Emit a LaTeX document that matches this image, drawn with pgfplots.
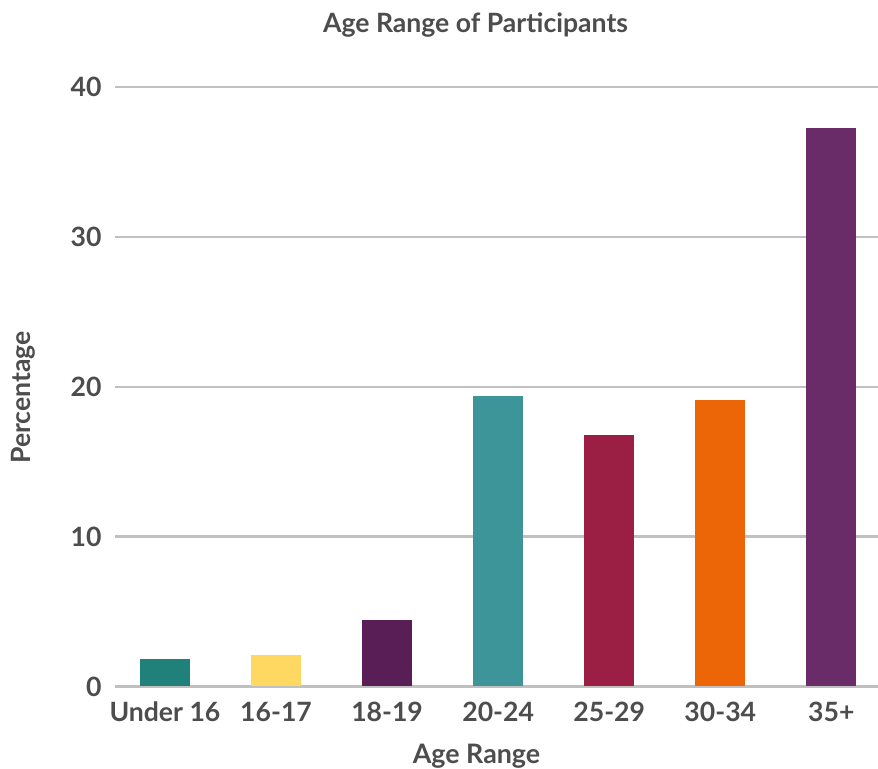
\documentclass[border=0pt]{standalone}
\usepackage{fontspec}
\setmainfont{Lato}
\usepackage{pgfplots}
\pgfplotsset{compat=1.18}
\definecolor{txt}{HTML}{4D4D4D}
\definecolor{grd}{HTML}{C0C0C0}
\definecolor{c1}{HTML}{20817A}
\definecolor{c2}{HTML}{FFD862}
\definecolor{c3}{HTML}{5A1E56}
\definecolor{c4}{HTML}{3D9599}
\definecolor{c5}{HTML}{9B1F45}
\definecolor{c6}{HTML}{EC6608}
\definecolor{c7}{HTML}{6A2C69}
\begin{document}
\begin{tikzpicture}
\useasboundingbox (0,0) rectangle (439pt,384.5pt);
\begin{axis}[
  at={(57.5pt,41.25pt)}, anchor=south west,
  scale only axis, width=381.5pt, height=299.75pt,
  ybar, bar width=25pt, bar shift=0pt,
  xmin=-0.45, xmax=6.42, ymin=0, ymax=40,
  ytick={0,10,20,30,40},
  xtick={0,1,2,3,4,5,6},
  xticklabels={Under 16,16-17,18-19,20-24,25-29,30-34,35+},
  /pgf/number format/assume math mode=true,
  axis line style={draw=none},
  major tick length=0pt,
  ymajorgrids, grid style={grd, line width=1.2pt},
  tick label style={font=\fontsize{13.3}{15}\selectfont\bfseries, text=txt},
  yticklabel style={anchor=east, inner sep=0pt, xshift=-6.5pt},
  xticklabel style={anchor=base, inner sep=0pt, yshift=-17.75pt},
  title={Age Range of Participants},
  title style={at={([yshift=27pt]axis description cs:0.4725,1)}, anchor=base, yshift=-6pt, inner sep=0pt, font=\fontsize{13.3}{15}\selectfont\bfseries, text=txt},
  xlabel={Age Range},
  xlabel style={at={([yshift=-38.5pt]axis description cs:0.4738,0)}, anchor=base, inner sep=0pt, font=\fontsize{13.4}{15}\selectfont\bfseries, text=txt},
  ylabel={Percentage},
  ylabel style={at={([xshift=-42.5pt]axis description cs:0,0.482)}, anchor=base, rotate=0, inner sep=0pt, font=\fontsize{13.3}{15}\selectfont\bfseries, text=txt},
]
\addplot[fill=c1, draw=none] coordinates {(0,1.83)};
\addplot[fill=c2, draw=none] coordinates {(1,2.10)};
\addplot[fill=c3, draw=none] coordinates {(2,4.44)};
\addplot[fill=c4, draw=none] coordinates {(3,19.38)};
\addplot[fill=c5, draw=none] coordinates {(4,16.78)};
\addplot[fill=c6, draw=none] coordinates {(5,19.11)};
\addplot[fill=c7, draw=none] coordinates {(6,37.26)};
\end{axis}
\end{tikzpicture}
\end{document}
